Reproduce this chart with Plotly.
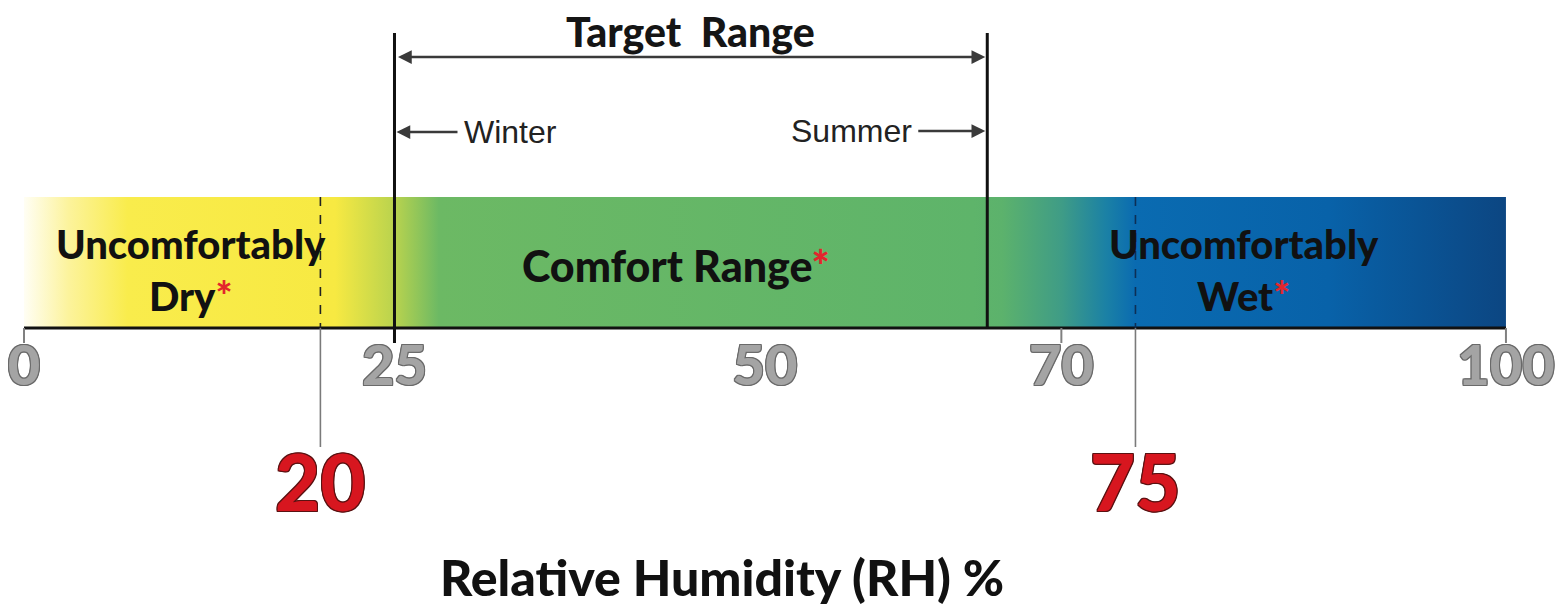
import plotly.graph_objects as go

# ---------------- data ----------------
rh_ticks = [0, 25, 50, 70, 100]
rh_tick_labels = ["0", "25", "50", "70", "100"]
small_tick_marks = [0, 70, 100]
bar_extent = [0, 100]
gradient_stops = [0, 3, 7, 21, 25, 28, 64, 66, 70, 73, 75, 88, 100]
gradient_colors = ["#fffef4", "#fcf39c", "#f9ec4c", "#f7e942", "#b9d34e", "#6cb964",
                   "#5eb46a", "#5cb26c", "#3f9c86", "#1b81a5", "#0a6bb1", "#0862a9", "#0c4682"]
comfort_limits = [20, 75]          # uncomfortable thresholds (red labels)
comfort_limit_labels = ["20", "75"]
target_limits = [25, 65]           # winter / summer target range
zone_labels = ["Uncomfortably<br>Dry", "Comfort Range", "Uncomfortably<br>Wet"]
zone_label_x = [11.3, 44.0, 82.3]

# ---------------- layout helpers ----------------
W, H = 1559, 609
X0, X1 = -1.62, 103.58
BAR_TOP, BAR_BOT = 197, 328
BOLD = "Lato"
AST = "<span style='color:#e3262c'>*</span>"

def outline(c, w=1):
    return ", ".join(f"{dx}px {dy}px 0 {c}" for dx in (-w, 0, w) for dy in (-w, 0, w) if dx or dy)

fig = go.Figure()

# gradient bar
fig.add_trace(go.Scatter(
    x=[bar_extent[0], bar_extent[1], bar_extent[1], bar_extent[0], bar_extent[0]],
    y=[BAR_BOT, BAR_BOT, BAR_TOP, BAR_TOP, BAR_BOT],
    mode="lines", fill="toself",
    line=dict(width=0, color="rgba(0,0,0,0)"),
    fillgradient=dict(type="horizontal", start=bar_extent[0], stop=bar_extent[1],
                      colorscale=[[(s - bar_extent[0]) / (bar_extent[1] - bar_extent[0]), c]
                                  for s, c in zip(gradient_stops, gradient_colors)]),
    hoverinfo="skip", showlegend=False))

shapes = []
shapes.append(dict(type="line", xref="x", yref="y", x0=bar_extent[0], x1=bar_extent[1],
                   y0=BAR_BOT, y1=BAR_BOT, line=dict(color="#111", width=3)))
for t in small_tick_marks:
    shapes.append(dict(type="line", xref="x", yref="y", x0=t, x1=t, y0=BAR_BOT, y1=BAR_BOT + 15,
                       line=dict(color="#808080", width=2)))
dash_colors = ["#222222", "#0d2f55"]
for v, dc in zip(comfort_limits, dash_colors):
    shapes.append(dict(type="line", xref="x", yref="y", x0=v, x1=v, y0=BAR_TOP, y1=BAR_BOT,
                       line=dict(color=dc, width=1.6, dash="dash")))
    shapes.append(dict(type="line", xref="x", yref="y", x0=v, x1=v, y0=BAR_BOT, y1=447,
                       line=dict(color="#7a7a7a", width=1.6)))
for v, bottom in zip(target_limits, [BAR_BOT + 15, BAR_BOT]):
    shapes.append(dict(type="line", xref="x", yref="y", x0=v, x1=v, y0=33, y1=bottom,
                       line=dict(color="#111", width=3)))

ann = []
ann.append(dict(x=sum(target_limits) / 2, y=31, xref="x", yref="y", text="Target  Range",
                showarrow=False, font=dict(family=BOLD, size=41, color="#151515", weight=900)))
ann.append(dict(x=target_limits[1], y=57, ax=target_limits[0], ay=57, xref="x", yref="y",
                axref="x", ayref="y", text="", showarrow=True, arrowside="end+start",
                arrowhead=2, arrowsize=1.1, arrowwidth=2.5, arrowcolor="#3a3a3a", standoff=2,
                startstandoff=2, startarrowhead=2, startarrowsize=1.1))
ann.append(dict(x=target_limits[0], y=132, xref="x", yref="y", ax=116, ay=0, text="Winter",
                showarrow=True, arrowhead=2, arrowsize=1.1, arrowwidth=2.5, arrowcolor="#3a3a3a",
                standoff=2, borderpad=6, font=dict(family="Liberation Sans", size=32, color="#222")))
ann.append(dict(x=target_limits[1], y=131, xref="x", yref="y", ax=-136, ay=0, text="Summer",
                showarrow=True, arrowhead=2, arrowsize=1.1, arrowwidth=2.5, arrowcolor="#3a3a3a",
                standoff=2, borderpad=6, font=dict(family="Liberation Sans", size=32, color="#222")))
for lbl, xv, yv, fs in zip(zone_labels, zone_label_x, [270, 265, 270], [40, 43, 40]):
    ann.append(dict(x=xv, y=yv, xref="x", yref="y", text=lbl + AST, showarrow=False,
                    font=dict(family=BOLD, size=fs, color="#111", weight=900)))
for v, lbl in zip(comfort_limits, comfort_limit_labels):
    ann.append(dict(x=v, y=481, xref="x", yref="y", text=lbl, showarrow=False,
                    font=dict(family=BOLD, size=78, color="#d7161f", weight=900,
                              shadow=outline("#5a1212"))))
ann.append(dict(x=722 / W, y=577, xref="paper", yref="y", text="Relative Humidity (RH) %",
                showarrow=False, font=dict(family=BOLD, size=50, color="#111", weight=900)))

fig.update_layout(
    width=W, height=H, margin=dict(l=0, r=0, t=0, b=0),
    paper_bgcolor="white", plot_bgcolor="white",
    xaxis=dict(range=[X0, X1], anchor="free", position=1 - BAR_BOT / H,
               tickvals=rh_ticks, ticktext=rh_tick_labels, ticks="",
               showgrid=False, zeroline=False, showline=False,
               tickfont=dict(family=BOLD, size=56, color="#a4a4a4", weight=900,
                             shadow=outline("#6a6a6a")),
               ticklabelstandoff=0, fixedrange=True),
    yaxis=dict(range=[H, 0], visible=False, domain=[0, 1], fixedrange=True),
    shapes=shapes, annotations=ann, hovermode=False, showlegend=False,
)

fig.write_html("out.html", config={"displayModeBar": False},
               post_script="document.body.style.margin='0';document.body.style.overflow='hidden';")
